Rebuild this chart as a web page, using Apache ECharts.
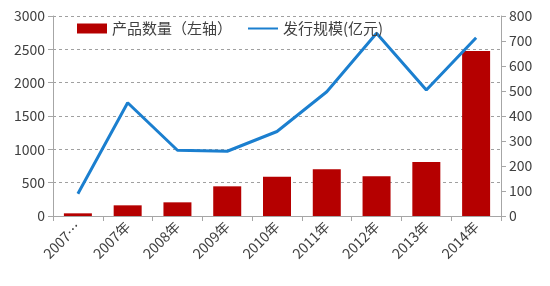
<!DOCTYPE html>
<html><head><meta charset="utf-8">
<script src="https://cdn.jsdelivr.net/npm/echarts@6/dist/echarts.min.js"></script>
<style>html,body{margin:0;padding:0;background:#fff}#c{width:550px;height:286px}</style>
</head><body><div id="c"></div>
<script>
const categories = ['2007…','2007年','2008年','2009年','2010年','2011年','2012年','2013年','2014年'];
const productCount = [40, 160, 205, 445, 590, 700, 595, 810, 2475];
const issueScale = [89, 453, 263, 259, 338, 497, 731, 504, 713];
const leftTicks = {min: 0, max: 3000, interval: 500};
const rightTicks = {min: 0, max: 800, interval: 100};

const font = '"Noto Sans CJK SC", "Liberation Sans", sans-serif';
const chart = echarts.init(document.getElementById('c'));
chart.setOption({
  animation: false,
  textStyle: {fontFamily: font},
  grid: {left: 53, right: 49, top: 16, bottom: 70},
  legend: {
    top: 16, left: 72, itemGap: 16, itemWidth: 30, itemHeight: 10,
    textStyle: {fontSize: 15, color: '#404040', fontFamily: font},
    data: [
      {name: '产品数量（左轴）', icon: 'rect'},
      {name: '发行规模(亿元)', icon: 'path://M0,4 L30,4 L30,6 L0,6 Z'}
    ]
  },
  xAxis: {
    type: 'category', data: categories, boundaryGap: true,
    axisLine: {lineStyle: {color: '#a6a6a6'}},
    axisTick: {show: true, alignWithLabel: false, length: 5, lineStyle: {color: '#a6a6a6'}},
    axisLabel: {rotate: 45, fontSize: 14, color: '#404040', interval: 0, margin: 8, fontFamily: font}
  },
  yAxis: [
    {type: 'value', min: leftTicks.min, max: leftTicks.max, interval: leftTicks.interval,
     axisLine: {show: true, lineStyle: {color: '#a6a6a6'}},
     axisTick: {show: true, length: 5, lineStyle: {color: '#a6a6a6'}},
     axisLabel: {fontSize: 14, color: '#404040', margin: 8, fontFamily: font, formatter: v => String(v)},
     splitLine: {lineStyle: {type: [3, 3], color: '#a0a0a0'}}},
    {type: 'value', min: rightTicks.min, max: rightTicks.max, interval: rightTicks.interval,
     axisLine: {show: true, lineStyle: {color: '#a6a6a6'}},
     axisTick: {show: true, length: 5, lineStyle: {color: '#a6a6a6'}},
     axisLabel: {fontSize: 14, color: '#404040', margin: 8, fontFamily: font, formatter: v => String(v)},
     splitLine: {show: false}}
  ],
  series: [
    {name: '产品数量（左轴）', type: 'bar', yAxisIndex: 0, data: productCount,
     barWidth: 28, itemStyle: {color: '#b50000'}},
    {name: '发行规模(亿元)', type: 'line', yAxisIndex: 1, data: issueScale,
     symbol: 'none', lineStyle: {color: '#1b7fcf', width: 3}, itemStyle: {color: '#1b7fcf'}}
  ]
});
</script></body></html>
